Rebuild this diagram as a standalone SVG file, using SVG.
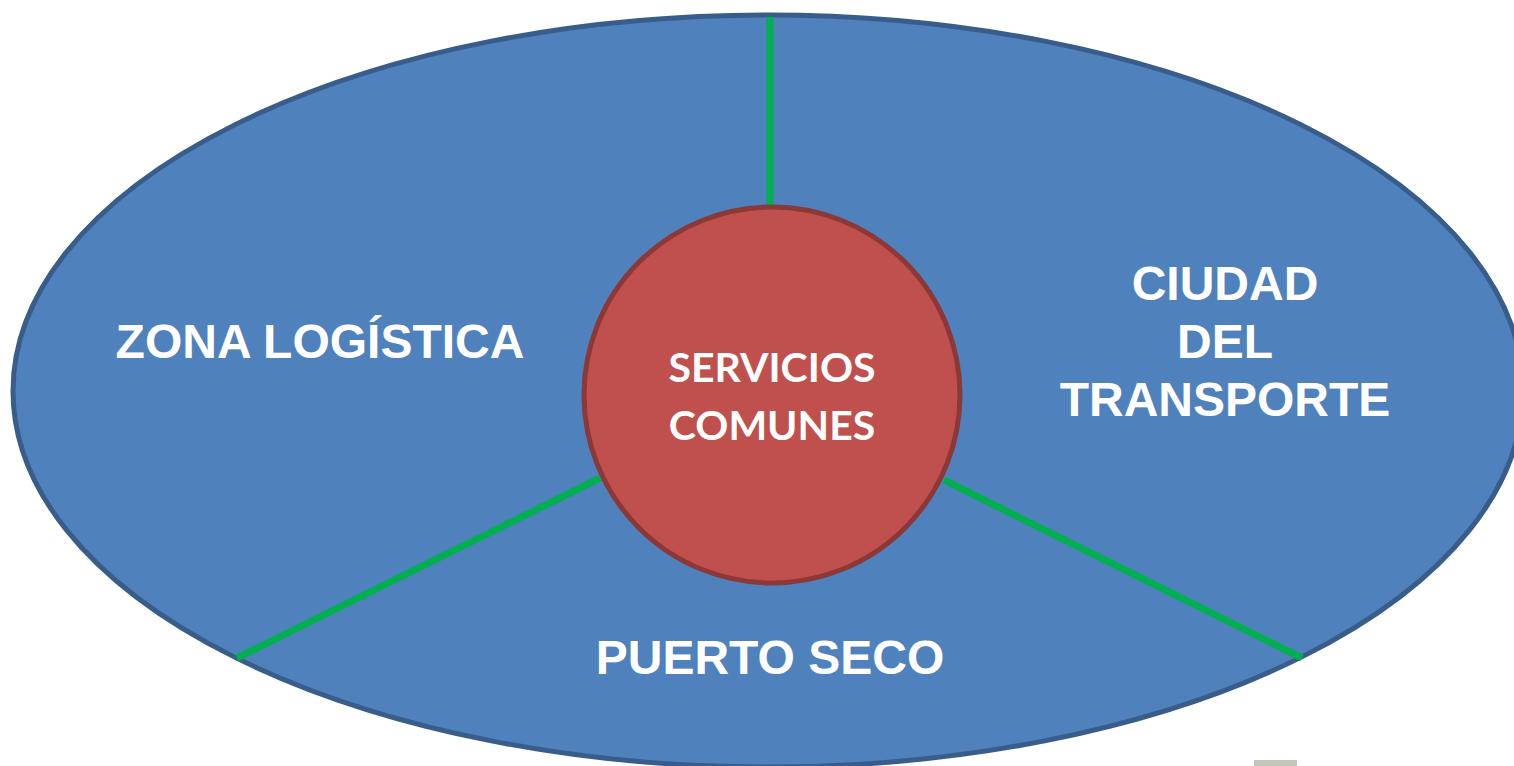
<svg xmlns="http://www.w3.org/2000/svg" width="1514" height="766" viewBox="0 0 1514 766">
<style>
.lbl{font-family:"Liberation Sans",Arial,sans-serif;font-weight:bold;font-size:48px;fill:#FFFFFF;text-anchor:middle}
.ctr{font-family:Lato,"Open Sans",sans-serif;font-weight:bold;font-size:41px;fill:#FFFFFF;text-anchor:middle}
.conn{stroke:#00B050;stroke-width:7;fill:none}
</style>
<rect width="1514" height="766" fill="#FFFFFF"/>
<g id="outer">
<ellipse cx="768" cy="391" rx="755" ry="376" fill="#4F81BD" stroke="#385D8A" stroke-width="5"/>
</g>
<g id="connectors">
<line class="conn" x1="770" y1="17" x2="770" y2="206"/>
<line class="conn" x1="600" y1="478" x2="237" y2="658"/>
<line class="conn" x1="944" y1="480" x2="1302" y2="658"/>
</g>
<g id="zona-logistica">
<text class="lbl" x="320" y="358">ZONA LOGÍSTICA</text>
</g>
<g id="ciudad-transporte">
<text class="lbl" x="1225" y="300">CIUDAD</text>
<text class="lbl" x="1225" y="358">DEL</text>
<text class="lbl" x="1225" y="416">TRANSPORTE</text>
</g>
<g id="puerto-seco">
<text class="lbl" x="770" y="674">PUERTO SECO</text>
</g>
<g id="servicios-comunes">
<circle cx="772" cy="395" r="188" fill="#C0504D" stroke="#8C3836" stroke-width="5"/>
<text class="ctr" x="772" y="382">SERVICIOS</text>
<text class="ctr" x="772" y="440">COMUNES</text>
</g>
<rect x="1254" y="760" width="43" height="6" fill="#C4C4B8"/>
</svg>
